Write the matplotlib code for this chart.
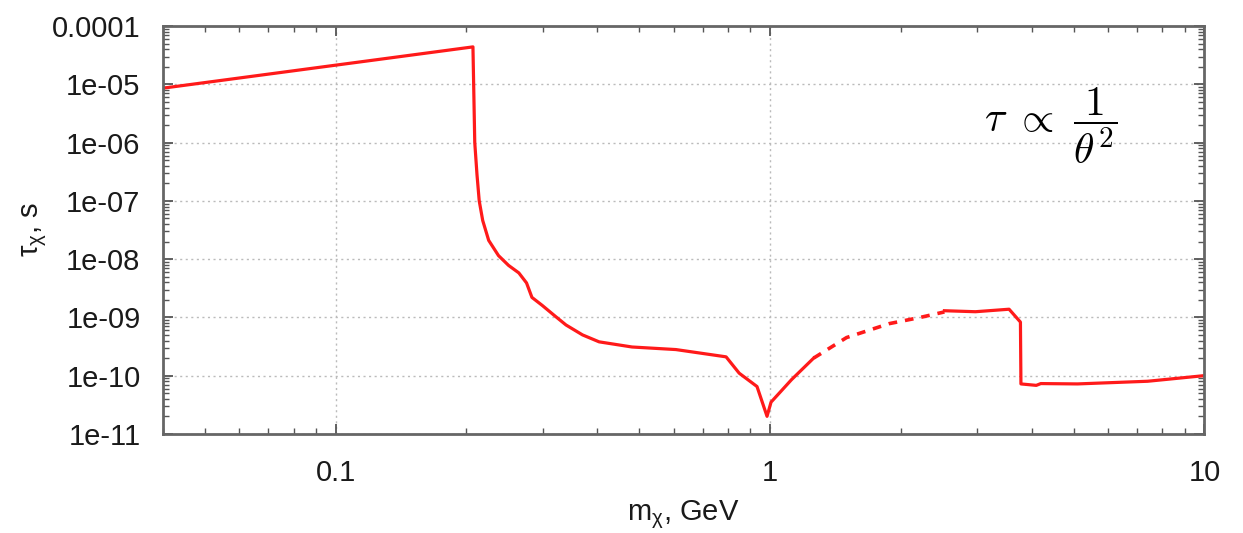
#!/usr/bin/env python3
# -*- coding: utf-8 -*-
"""Lifetime tau_chi vs m_chi (gnuplot-style log-log plot)."""

import matplotlib
matplotlib.use("Agg")
import matplotlib.pyplot as plt
from matplotlib.ticker import LogLocator, FixedLocator, NullFormatter

# solid part, low mass
m_lo = [0.04, 0.207, 0.209, 0.2115, 0.214, 0.218, 0.225, 0.237, 0.25, 0.264, 0.275, 0.283,
        0.299, 0.32, 0.339, 0.37, 0.404, 0.481, 0.607, 0.792, 0.849, 0.933, 0.984, 1.005,
        1.12, 1.26]
tau_lo = [8.6e-6, 4.4e-5, 1.0e-6, 2.8e-7, 1.0e-7, 4.6e-8, 2.1e-8, 1.15e-8, 7.8e-9, 5.8e-9, 3.9e-9, 2.2e-9,
          1.6e-9, 1.05e-9, 7.4e-10, 5.0e-10, 3.8e-10, 3.1e-10, 2.8e-10, 2.1e-10, 1.1e-10, 6.5e-11, 2.0e-11, 3.5e-11,
          8.5e-11, 2.0e-10]
# dashed part
m_mid = [1.26, 1.50, 1.88, 2.22, 2.52]
tau_mid = [2.0e-10, 4.5e-10, 7.8e-10, 1.0e-9, 1.24e-9]
# solid part, high mass
m_hi = [2.52, 2.97, 3.55, 3.77, 3.78, 4.1, 4.2, 5.1, 7.4, 10.0]
tau_hi = [1.3e-9, 1.25e-9, 1.38e-9, 8.3e-10, 7.2e-11, 6.8e-11, 7.3e-11, 7.2e-11, 8.0e-11, 1.0e-10]

x_ticks = [0.1, 1, 10]
x_ticklabels = ["0.1", "1", "10"]
y_ticks = [1e-11, 1e-10, 1e-9, 1e-8, 1e-7, 1e-6, 1e-5, 1e-4]
y_ticklabels = ["1e-11", "1e-10", "1e-09", "1e-08", "1e-07", "1e-06", "1e-05", "0.0001"]

plt.rcParams["font.family"] = ["Liberation Sans", "DejaVu Sans"]
plt.rcParams["mathtext.fontset"] = "cm"

fig = plt.figure(figsize=(12.43, 5.33), dpi=100)
ax = fig.add_axes([0.131, 0.186, 0.838, 0.765])

red = "#ff1a1a"
ax.plot(m_lo, tau_lo, color=red, lw=2.3, solid_joinstyle="round")
ax.plot(m_mid, tau_mid, color=red, lw=2.6, dashes=(2.4, 2.2))
ax.plot(m_hi, tau_hi, color=red, lw=2.3, solid_joinstyle="round")

ax.set_xscale("log")
ax.set_yscale("log")
ax.set_xlim(0.04, 10)
ax.set_ylim(1e-11, 1e-4)

ax.xaxis.set_major_locator(FixedLocator(x_ticks))
ax.set_xticklabels(x_ticklabels)
ax.yaxis.set_major_locator(FixedLocator(y_ticks))
ax.set_yticklabels(y_ticklabels)
ax.xaxis.set_minor_locator(LogLocator(base=10, subs=range(2, 10), numticks=20))
ax.yaxis.set_minor_locator(LogLocator(base=10, subs=range(2, 10), numticks=20))
ax.xaxis.set_minor_formatter(NullFormatter())
ax.yaxis.set_minor_formatter(NullFormatter())

ax.tick_params(which="both", direction="in", top=True, right=True, color="#555555")
ax.tick_params(which="major", length=7, width=1.3, labelsize=21, labelcolor="#1a1a1a")
ax.tick_params(axis="y", which="major", pad=16)
ax.tick_params(axis="x", which="major", pad=18)
ax.tick_params(which="minor", length=4, width=1.0)
for s in ax.spines.values():
    s.set_color("#666666")
    s.set_linewidth(2.0)

ax.grid(True, which="major", color="#bbbbbb", linestyle=(0, (1.5, 2.5)), linewidth=1.0)

ax.set_xlabel(r"m$\mathregular{_χ}$, GeV", fontsize=21, labelpad=8, color="#1a1a1a")
ax.set_ylabel(r"$\mathregular{τ_χ}$, s", fontsize=21, labelpad=2, color="#1a1a1a")

ax.text(0.852, 0.755, r"$\tau\ \propto\ \dfrac{1}{\theta^2}$", transform=ax.transAxes,
        fontsize=30, ha="center", va="center")

fig.savefig("out.png")
